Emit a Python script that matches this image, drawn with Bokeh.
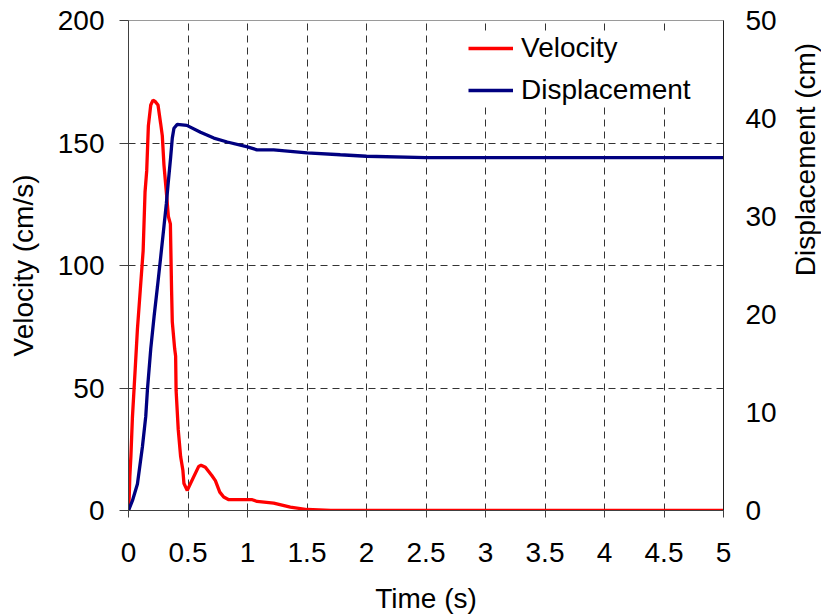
import math
from bokeh.plotting import figure
from bokeh.layouts import row
from bokeh.models import (Range1d, LinearAxis, Legend, LegendItem, FixedTicker,
                          NumeralTickFormatter, Label)
from bokeh.embed import file_html
from bokeh.resources import INLINE

# ---- data ----
time_v = [0, 0.006, 0.011, 0.02, 0.033, 0.056, 0.075, 0.099, 0.123, 0.139, 0.153, 0.167,
          0.187, 0.206, 0.223, 0.248, 0.27, 0.284, 0.298, 0.318, 0.335, 0.352, 0.362,
          0.368, 0.388, 0.396, 0.40, 0.418, 0.438, 0.457, 0.466, 0.494, 0.521, 0.59,
          0.61, 0.646, 0.70, 0.73, 0.767, 0.80, 0.843, 1.04, 1.08, 1.22, 1.36, 1.5,
          1.7, 5.0]
velocity = [0, 5.5, 13.7, 22, 38, 57.5, 74, 90, 106, 130, 138.6, 157,
            165.5, 167.5, 167, 165.5, 158, 153, 141, 130, 120, 117, 90,
            77, 66, 63, 49, 33, 22, 16.4, 11, 8.2, 11, 18,
            18.5, 17.7, 14.3, 12.2, 7.5, 5.5, 4.4, 4.4, 3.7, 3.0, 1.4, 0.4,
            0, 0]

time_d = [0, 0.033, 0.075, 0.117, 0.145, 0.159, 0.187, 0.215, 0.243, 0.27, 0.298, 0.318,
          0.335, 0.354, 0.368, 0.382, 0.41, 0.49, 0.605, 0.717, 0.83, 1.0, 1.08, 1.22,
          1.5, 1.78, 2.0, 2.5, 5.0]
displacement = [0, 1.0, 2.7, 6.5, 9.6, 12.3, 16.5, 19.8, 22.8, 25.8, 29.0, 31.3,
                33.6, 36.0, 38.0, 39.0, 39.4, 39.3, 38.6, 38.0, 37.6, 37.1, 36.8, 36.8,
                36.5, 36.3, 36.15, 36.0, 36.0]

x_ticks = [0, 0.5, 1, 1.5, 2, 2.5, 3, 3.5, 4, 4.5, 5]
v_ticks = [0, 50, 100, 150, 200]
d_ticks = [0, 10, 20, 30, 40, 50]

FONT = "Liberation Sans"
FS = "28px"
FW, FH = 595, 490
B_LEFT, B_RIGHT, B_TOP, B_BOTTOM = 128, 58, 20, 98
TOTAL_H = B_TOP + FH + B_BOTTOM

p = figure(frame_width=FW, frame_height=FH, output_backend="svg", toolbar_location=None,
           x_range=Range1d(0, 5), y_range=Range1d(0, 200),
           min_border_left=B_LEFT, min_border_right=B_RIGHT,
           min_border_top=B_TOP, min_border_bottom=B_BOTTOM)
p.extra_y_ranges = {"disp": Range1d(0, 50)}
p.background_fill_color = "white"
p.border_fill_color = "white"
p.outline_line_color = "#9a9a9a"
p.outline_line_width = 1

r_v = p.line(time_v, velocity, line_color="#ff0000", line_width=3.3)
r_d = p.line(time_d, displacement, line_color="#000080", line_width=3.3, y_range_name="disp")

def style_axis(ax):
    ax.major_label_text_font = FONT
    ax.major_label_text_font_size = FS
    ax.major_label_text_color = "black"
    ax.axis_label_text_font = FONT
    ax.axis_label_text_font_size = FS
    ax.axis_label_text_font_style = "normal"
    ax.axis_label_text_color = "black"
    ax.minor_tick_line_color = None
    ax.major_tick_in = 0
    ax.axis_line_color = "#404040"
    ax.axis_line_width = 1
    ax.major_tick_line_color = "#404040"

xa = p.xaxis[0]
style_axis(xa)
xa.ticker = FixedTicker(ticks=x_ticks)
xa.formatter = NumeralTickFormatter(format="0.[0]")
xa.axis_label = "Time (s)"
xa.major_tick_out = 7
xa.major_label_standoff = 25
xa.axis_label_standoff = 18

ya = p.yaxis[0]
style_axis(ya)
ya.ticker = FixedTicker(ticks=v_ticks)
ya.axis_label = "Velocity (cm/s)"
ya.major_tick_out = 9
ya.major_label_standoff = 15
ya.axis_label_standoff = 16

ra = LinearAxis(y_range_name="disp")
style_axis(ra)
ra.ticker = FixedTicker(ticks=d_ticks)
ra.major_tick_out = 0
ra.major_label_standoff = 22
ra.axis_line_color = "#202020"
p.add_layout(ra, "right")

p.xgrid.ticker = FixedTicker(ticks=[0.5, 1, 1.5, 2, 2.5, 3, 3.5, 4, 4.5])
p.ygrid.ticker = FixedTicker(ticks=[50, 100, 150])
for g in (p.xgrid[0], p.ygrid[0]):
    g.grid_line_color = "#333333"
    g.grid_line_dash = "7 5"
    g.grid_line_width = 1

legend = Legend(items=[LegendItem(label="Velocity", renderers=[r_v]),
                       LegendItem(label="Displacement", renderers=[r_d])],
                location=(340, 404))
legend.label_text_font = FONT
legend.label_text_font_size = FS
legend.label_text_color = "black"
legend.glyph_width = 45
legend.glyph_height = 20
legend.label_standoff = 8
legend.spacing = 10
legend.padding = 5
legend.margin = 0
legend.border_line_color = None
legend.background_fill_color = "white"
legend.background_fill_alpha = 1.0
p.add_layout(legend)

# narrow strip holding the right axis title, reading bottom-to-top as in the reference
STRIP_W = 40
strip = figure(width=STRIP_W, height=TOTAL_H, output_backend="svg", toolbar_location=None,
               x_axis_type=None, y_axis_type=None, min_border=0,
               x_range=Range1d(0, 1), y_range=Range1d(0, 1))
strip.outline_line_color = None
strip.grid.visible = False
strip.background_fill_color = "white"
strip.border_fill_color = "white"
right_title = Label(x=24, y=B_BOTTOM + FH / 2, x_units="screen", y_units="screen",
                    text="Displacement (cm)", angle=math.pi / 2,
                    text_align="center", text_baseline="middle",
                    text_font=FONT, text_font_size=FS, text_color="black")
strip.add_layout(right_title)

layout = row(p, strip)
open("out.html", "w").write(file_html(layout, INLINE))
